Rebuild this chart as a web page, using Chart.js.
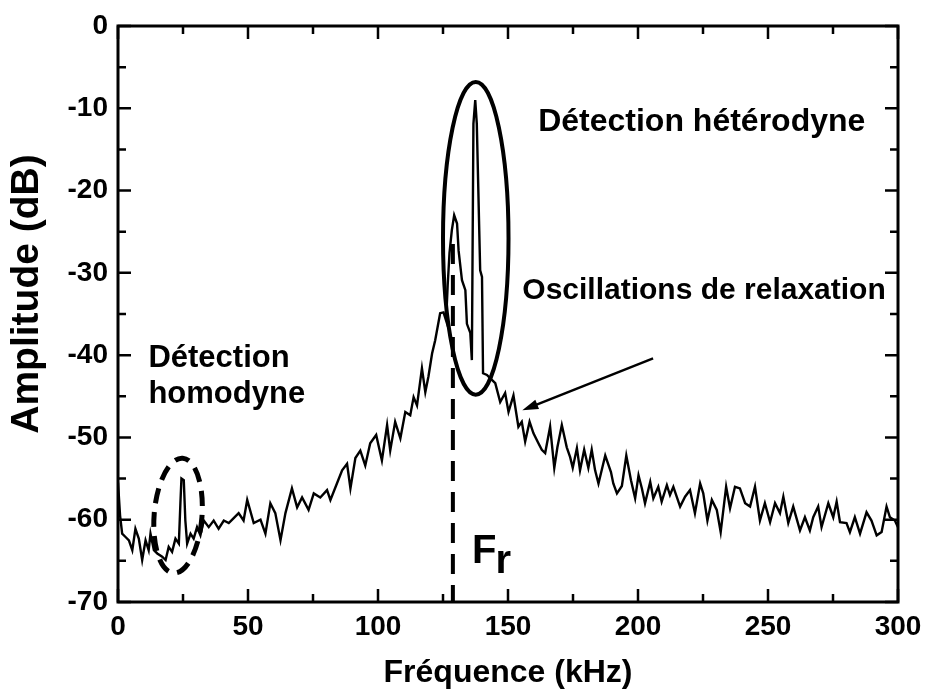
<!DOCTYPE html>
<html>
<head>
<meta charset="utf-8">
<script src="https://cdn.jsdelivr.net/npm/chart.js@4.4.1/dist/chart.umd.min.js"></script>
<style>
  html, body { margin: 0; padding: 0; background: #fff; }
  #wrap { width: 925px; height: 695px; }
</style>
</head>
<body>
<div id="wrap"><canvas id="spectrum" width="925" height="695"></canvas></div>
<script>
const freqKHz = [
    0, 0.8, 1.6, 2.9, 4.2, 5.5, 6.7, 8.0, 9.3, 10.6, 11.8, 12.5, 13.8, 15.1, 17.0, 18.3, 19.5, 20.8,
    22.1, 23.4, 24.0, 24.4, 25.3, 25.9, 26.6, 27.9, 29.1, 30.4, 31.7, 33.0, 34.9, 36.8, 38.7, 40.7,
    42.6, 44.5, 46.4, 48.3, 49.7, 52.2, 54.8, 56.7, 58.6, 60.5, 62.5, 64.4, 66.9, 68.9, 70.8, 73.3,
    75.3, 77.8, 80.4, 81.7, 84.2, 86.2, 88.1, 89.4, 91.3, 93.2, 95.1, 97.0, 99.3, 101.5, 103.5, 104.7,
    106.6, 108.6, 110.5, 112.4, 113.7, 115.0, 116.9, 118.2, 119.4, 120.8, 122.0, 123.9, 125.2, 126.2,
    126.8, 127.5, 128.4, 129.3, 130.4, 131.0, 132.3, 133.6, 134.2, 135.5, 136.1, 136.7, 137.4, 138.0,
    139.3, 140.0, 140.4, 141.9, 143.8, 145.1, 147.0, 148.9, 150.2, 152.1, 154.0, 155.3, 156.6, 158.3,
    159.8, 161.7, 163.0, 164.3, 166.2, 167.8, 169.0, 170.7, 172.6, 173.9, 174.9, 176.5, 177.7, 179.3,
    180.9, 182.2, 183.5, 184.8, 187.4, 189.6, 190.5, 191.9, 193.8, 195.5, 197.3, 198.9, 200.2, 201.5,
    202.7, 204.7, 205.9, 207.8, 209.1, 211.1, 212.3, 213.6, 216.2, 218.1, 220.0, 221.9, 223.9, 225.1,
    226.7, 228.4, 230.3, 231.8, 233.9, 235.4, 237.3, 239.2, 241.2, 243.1, 245.0, 246.9, 248.8, 250.8,
    252.7, 254.6, 255.9, 257.8, 259.7, 262.3, 264.2, 266.1, 267.4, 269.3, 270.6, 273.2, 275.1, 276.4,
    277.7, 280.2, 281.5, 283.4, 285.4, 287.9, 289.8, 291.8, 293.7, 295.6, 296.9, 298.8, 300
];
const amplitudeDB = [
    -55.5, -59.5, -61.7, -62.1, -62.5, -63.7, -61.1, -62.3, -64.9, -62.5, -63.7, -61.7, -63.7, -64.1, -64.5, -64.9, -63.3, -63.9,
    -62.3, -62.9, -58.0, -55.0, -55.2, -60.1, -62.9, -61.7, -62.3, -60.9, -61.9, -60.1, -60.9, -60.1, -61.1, -60.1,
    -60.4, -59.8, -59.2, -60.1, -57.6, -60.4, -60.0, -61.7, -58.0, -59.2, -62.5, -59.2, -56.2, -58.5, -57.3, -58.8,
    -56.8, -57.3, -56.4, -57.6, -55.6, -54.0, -53.2, -56.2, -52.5, -51.6, -53.4, -50.7, -49.7, -52.8, -48.5, -51.6,
    -48.1, -50.1, -46.9, -47.3, -45.1, -46.1, -41.6, -44.5, -42.6, -39.8, -38.2, -34.9, -34.8, -35.8,
    -31.5, -27.6, -24.8, -23.0, -24.0, -27.3, -30.9, -32.1, -36.2, -37.3, -40.6, -11.9, -9.0, -11.9,
    -29.7, -30.5, -42.2, -42.4, -43.0, -43.4, -45.7, -44.6, -46.9, -44.9, -48.7, -48.1, -50.5, -48.1,
    -49.5, -50.7, -51.5, -51.9, -48.7, -53.7, -51.2, -48.5, -51.2, -52.4, -53.7, -51.3, -54.0, -51.5,
    -53.7, -51.5, -54.0, -55.6, -52.2, -54.2, -55.6, -56.8, -55.9, -52.2, -55.2, -57.4, -54.6, -56.2,
    -58.0, -55.4, -57.4, -56.0, -57.8, -55.8, -57.0, -56.0, -58.4, -57.2, -56.4, -59.2, -55.6, -56.8,
    -60.1, -57.6, -58.8, -61.5, -56.0, -58.6, -56.0, -56.2, -58.0, -58.4, -56.0, -60.1, -58.0, -60.3,
    -58.0, -59.2, -57.2, -60.4, -58.4, -61.3, -59.7, -61.3, -59.7, -58.4, -60.9, -58.0, -59.7, -57.8,
    -60.3, -60.4, -61.5, -59.7, -61.7, -59.1, -60.1, -61.9, -61.5, -58.4, -59.7, -60.1, -60.9
];

// Graduations des axes
const xTickValues = [0, 50, 100, 150, 200, 250, 300];
const yTickValues = [-70, -60, -50, -40, -30, -20, -10, 0];

const FONT = "'Liberation Sans', Arial, Helvetica, sans-serif";

// Annotations : cadre, graduations, ellipses, trait Fr, flèche et textes
const annotationPlugin = {
    id: 'annotations',
    afterDraw(chart) {
        const { ctx, chartArea, scales } = chart;
        const x = scales.x, y = scales.y;
        const px = v => x.getPixelForValue(v);
        const py = v => y.getPixelForValue(v);

        ctx.save();
        ctx.strokeStyle = '#000';
        ctx.fillStyle = '#000';

        // cadre
        ctx.lineWidth = 3;
        ctx.strokeRect(chartArea.left, chartArea.top, chartArea.right - chartArea.left, chartArea.bottom - chartArea.top);

        // graduations intérieures, sur les quatre côtés
        ctx.lineWidth = 2.5;
        ctx.beginPath();
        for (let v = 0; v <= 300; v += 25) {
            const len = v % 50 === 0 ? 13 : 8;
            const p = px(v);
            ctx.moveTo(p, chartArea.bottom); ctx.lineTo(p, chartArea.bottom - len);
            ctx.moveTo(p, chartArea.top); ctx.lineTo(p, chartArea.top + len);
        }
        for (let v = -70; v <= 0; v += 5) {
            const len = v % 10 === 0 ? 13 : 8;
            const p = py(v);
            ctx.moveTo(chartArea.left, p); ctx.lineTo(chartArea.left + len, p);
            ctx.moveTo(chartArea.right, p); ctx.lineTo(chartArea.right - len, p);
        }
        ctx.stroke();

        // ellipse pleine : détection hétérodyne
        ctx.lineWidth = 4;
        ctx.beginPath();
        ctx.ellipse(px(137.6), py(-25.8), px(137.6 + 12.6) - px(137.6), py(-25.8 - 19) - py(-25.8), 0, 0, Math.PI * 2);
        ctx.stroke();

        // ellipse en tirets : détection homodyne
        ctx.lineWidth = 5;
        ctx.setLineDash([15, 9]);
        ctx.beginPath();
        ctx.ellipse(px(23.1), py(-59.5), px(23.1 + 9.2) - px(23.1), py(-59.5 - 7) - py(-59.5), 0.08, 0, Math.PI * 2);
        ctx.stroke();

        // trait vertical en tirets à Fr
        ctx.lineWidth = 4;
        ctx.setLineDash([20, 11]);
        ctx.beginPath();
        ctx.moveTo(px(128.8), py(-26.5));
        ctx.lineTo(px(128.8), chartArea.bottom);
        ctx.stroke();
        ctx.setLineDash([]);

        // flèche vers les oscillations de relaxation
        const x0 = px(205.8), y0 = py(-40.4), x1 = px(155.5), y1 = py(-46.7);
        const ang = Math.atan2(y1 - y0, x1 - x0);
        ctx.lineWidth = 2.5;
        ctx.beginPath();
        ctx.moveTo(x0, y0);
        ctx.lineTo(x1 - 10 * Math.cos(ang), y1 - 10 * Math.sin(ang));
        ctx.stroke();
        ctx.beginPath();
        ctx.moveTo(x1, y1);
        ctx.lineTo(x1 - 16 * Math.cos(ang) + 5 * Math.sin(ang), y1 - 16 * Math.sin(ang) - 5 * Math.cos(ang));
        ctx.lineTo(x1 - 16 * Math.cos(ang) - 5 * Math.sin(ang), y1 - 16 * Math.sin(ang) + 5 * Math.cos(ang));
        ctx.closePath();
        ctx.fill();

        // textes
        ctx.textAlign = 'left';
        ctx.textBaseline = 'alphabetic';
        ctx.font = 'bold 32px ' + FONT;
        ctx.fillText('Détection hétérodyne', px(161.6), py(-12.8));
        ctx.font = 'bold 30px ' + FONT;
        ctx.fillText('Oscillations de relaxation', px(155.5), py(-33.2));
        ctx.font = 'bold 31px ' + FONT;
        ctx.fillText('Détection', px(11.7), py(-41.4));
        ctx.fillText('homodyne', px(11.7), py(-45.8));
        ctx.font = 'bold 40px ' + FONT;
        ctx.fillText('F', px(136.2), py(-65.2));
        ctx.fillText('r', px(145.2), py(-66.5));

        // titre de l'axe vertical
        ctx.save();
        ctx.translate(27, 294);
        ctx.rotate(-Math.PI / 2);
        ctx.textAlign = 'center';
        ctx.textBaseline = 'middle';
        ctx.font = 'bold 39px ' + FONT;
        ctx.fillText('Amplitude (dB)', 0, 0);
        ctx.restore();

        ctx.restore();
    }
};

const tickFont = { family: FONT, size: 28, weight: 'bold' };

new Chart(document.getElementById('spectrum'), {
    type: 'line',
    data: {
        datasets: [{
            data: freqKHz.map((f, i) => ({ x: f, y: amplitudeDB[i] })),
            borderColor: '#000',
            borderWidth: 2.4,
            pointRadius: 0,
            tension: 0,
            fill: false
        }]
    },
    options: {
        responsive: false,
        animation: false,
        devicePixelRatio: 1,
        layout: { padding: { top: 26, right: 27, left: 0, bottom: 0 } },
        plugins: {
            legend: { display: false },
            tooltip: { enabled: false }
        },
        scales: {
            x: {
                type: 'linear',
                min: 0,
                max: 300,
                afterBuildTicks: s => { s.ticks = xTickValues.map(v => ({ value: v })); },
                afterFit: s => { s.height = 93; s.paddingLeft = 0; s.paddingRight = 0; },
                ticks: { font: tickFont, color: '#000', padding: 8, maxRotation: 0 },
                grid: { display: false, drawTicks: false },
                border: { display: false },
                title: {
                    display: true,
                    text: 'Fréquence (kHz)',
                    color: '#000',
                    font: { family: FONT, size: 32, weight: 'bold' },
                    padding: { top: 0, bottom: 3 }
                }
            },
            y: {
                type: 'linear',
                min: -70,
                max: 0,
                afterBuildTicks: s => { s.ticks = yTickValues.map(v => ({ value: v })); },
                afterFit: s => { s.width = 118; s.paddingTop = 0; s.paddingBottom = 0; },
                ticks: { font: tickFont, color: '#000', padding: 10 },
                grid: { display: false, drawTicks: false },
                border: { display: false },
                title: { display: false }
            }
        }
    },
    plugins: [annotationPlugin]
});
</script>
</body>
</html>
